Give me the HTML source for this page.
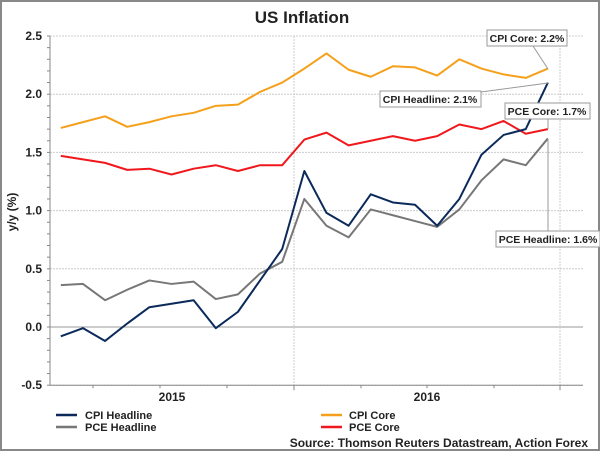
<!DOCTYPE html>
<html><head><meta charset="utf-8"><style>
body{margin:0;background:#fff}
svg{display:block;font-family:"Liberation Sans",Arial,sans-serif}
</style></head><body>
<svg id="c" width="600" height="451" viewBox="0 0 600 451">
<rect x="1" y="1" width="598" height="449" fill="#fff" stroke="#888" stroke-width="2"/>
<text x="302" y="23" text-anchor="middle" font-size="17" font-weight="bold" fill="#222">US Inflation</text>
<text transform="translate(16,212) rotate(-90)" text-anchor="middle" font-size="12" font-weight="bold" fill="#222">y/y (%)</text>
<g id="grid"></g><g id="series"></g>
<g font-size="10.5" font-weight="bold" fill="#222">
<line x1="533" y1="46" x2="548" y2="69" stroke="#999"/>
<rect x="487" y="30" width="80" height="16" fill="#fff" stroke="#999"/>
<text x="527" y="42" text-anchor="middle">CPI Core: 2.2%</text>
<line x1="481" y1="92" x2="548" y2="83" stroke="#999"/>
<rect x="380" y="91" width="101" height="16" fill="#fff" stroke="#999"/>
<text x="430" y="103" text-anchor="middle">CPI Headline: 2.1%</text>
<line x1="548" y1="119" x2="548" y2="129" stroke="#999"/>
<rect x="505" y="103" width="85" height="16" fill="#fff" stroke="#999"/>
<text x="547" y="115" text-anchor="middle">PCE Core: 1.7%</text>
<line x1="548" y1="231" x2="548" y2="139" stroke="#999"/>
<rect x="496" y="231" width="104" height="16" fill="#fff" stroke="#999"/>
<text x="548" y="243" text-anchor="middle">PCE Headline: 1.6%</text>
</g>
<g font-size="11" font-weight="bold" fill="#222">
<line x1="56" y1="415" x2="77" y2="415" stroke="#0b2a5b" stroke-width="2.5"/><text x="85" y="419">CPI Headline</text>
<line x1="56" y1="427" x2="77" y2="427" stroke="#777" stroke-width="2.5"/><text x="85" y="431">PCE Headline</text>
<line x1="321" y1="415" x2="342" y2="415" stroke="#f5a01a" stroke-width="2.5"/><text x="349" y="419">CPI Core</text>
<line x1="321" y1="427" x2="342" y2="427" stroke="#f0181c" stroke-width="2.5"/><text x="349" y="431">PCE Core</text>
</g>
<text x="588" y="447" text-anchor="end" font-size="12" font-weight="bold" fill="#222">Source: Thomson Reuters Datastream, Action Forex</text>
</svg>
<script>
const cpiHeadline=[-0.08,-0.01,-0.12,0.03,0.17,0.2,0.23,-0.01,0.13,0.4,0.67,1.34,0.98,0.87,1.14,1.07,1.05,0.87,1.1,1.48,1.65,1.7,2.1];
const pceHeadline=[0.36,0.37,0.23,0.32,0.4,0.37,0.39,0.24,0.28,0.46,0.56,1.1,0.87,0.77,1.01,0.96,0.91,0.86,1.01,1.26,1.44,1.39,1.62];
const cpiCore=[1.71,1.76,1.81,1.72,1.76,1.81,1.84,1.9,1.91,2.02,2.1,2.22,2.35,2.21,2.15,2.24,2.23,2.16,2.3,2.22,2.17,2.14,2.22];
const pceCore=[1.47,1.44,1.41,1.35,1.36,1.31,1.36,1.39,1.34,1.39,1.39,1.61,1.67,1.56,1.6,1.64,1.6,1.64,1.74,1.7,1.77,1.66,1.7];
const yTicks=["-0.5","0.0","0.5","1.0","1.5","2.0","2.5"];
const yearLabels=["2015","2016"];
const NS="http://www.w3.org/2000/svg";
const X=i=>60.8+i*22.14;
const Y=v=>327-v*116.4;
const grid=document.getElementById('grid'),ser=document.getElementById('series');
function mk(tag,at,p){const e=document.createElementNS(NS,tag);for(const k in at)e.setAttribute(k,at[k]);p.appendChild(e);return e;}
yTicks.forEach(t=>{const v=+t,y=Y(v);
 const l=mk('line',{x1:50,x2:583,y1:y,y2:y,stroke:v===0?'#999':'#ccc','stroke-dasharray':v===0?'':'2,1','stroke-width':1},grid);
 
 
 const tx=mk('text',{x:42,y:y+4,'text-anchor':'end','font-size':12,'font-weight':'bold',fill:'#222'},grid);tx.textContent=t;
 
 
});
for(let v=-0.5;v<=2.5001;v+=0.1){mk('line',{x1:47,x2:50,y1:Y(v),y2:Y(v),stroke:'#888'},grid);}
[294,560].forEach(x=>mk('line',{x1:x,x2:x,y1:Y(2.5),y2:Y(-0.5),stroke:'#ccc','stroke-dasharray':'2,1'},grid));
mk('line',{x1:50,x2:50,y1:Y(2.5),y2:Y(-0.5),stroke:'#888'},grid);
mk('line',{x1:50,x2:583,y1:Y(-0.5),y2:Y(-0.5),stroke:'#888'},grid);
[93,160,227,294,361,427,494,560].forEach((x,i)=>mk('line',{x1:x,x2:x,y1:Y(-0.5),y2:Y(-0.5)+(i%4==3?5:3),stroke:'#888'},grid));
[172,427].forEach((x,i)=>{const t=mk('text',{x:x,y:401,'text-anchor':'middle','font-size':12,'font-weight':'bold',fill:'#222'},grid);t.textContent=yearLabels[i];
 
 });
function line(d,c,n){const p=mk('polyline',{points:d.map((v,i)=>X(i)+','+Y(v)).join(' '),fill:'none',stroke:c,'stroke-width':2,'stroke-linejoin':'round'},ser);
 
 }
line(pceHeadline,'#777','pce-headline-line');
line(pceCore,'#f0181c','pce-core-line');
line(cpiCore,'#f5a01a','cpi-core-line');
line(cpiHeadline,'#0b2a5b','cpi-headline-line');
</script>
</body></html>
